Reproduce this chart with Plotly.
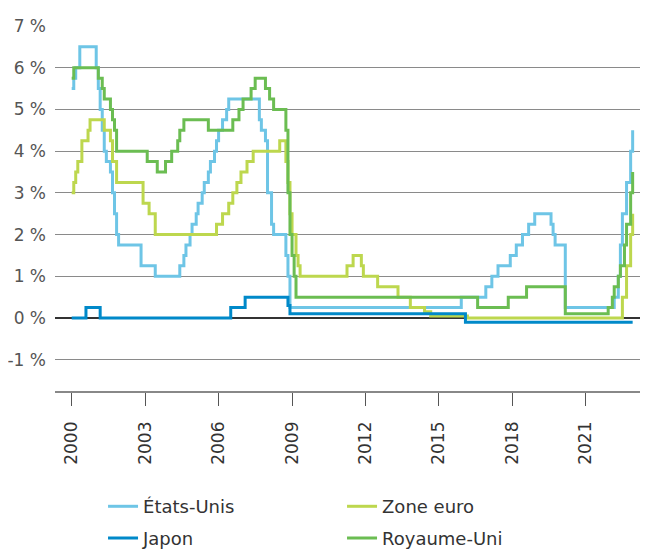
import plotly.graph_objects as go

# policy rates (%), dates of each change, last point = Dec 2022
us_dates = ["2000-01", "2000-02", "2000-03", "2000-05", "2001-01", "2001-02", "2001-03", "2001-04",
            "2001-05", "2001-06", "2001-08", "2001-09", "2001-10", "2001-11", "2001-12", "2002-11",
            "2003-06", "2004-06", "2004-08", "2004-09", "2004-11", "2004-12", "2005-02", "2005-03",
            "2005-05", "2005-06", "2005-08", "2005-09", "2005-11", "2005-12", "2006-01", "2006-03",
            "2006-05", "2006-06", "2007-09", "2007-10", "2007-12", "2008-01", "2008-03", "2008-04",
            "2008-10", "2008-11", "2008-12", "2015-12", "2016-12", "2017-03", "2017-06", "2017-12",
            "2018-03", "2018-06", "2018-09", "2018-12", "2019-08", "2019-09", "2019-10", "2020-03",
            "2022-03", "2022-05", "2022-06", "2022-07", "2022-09", "2022-11", "2022-12"]
us_rate = [5.5, 5.75, 6.0, 6.5, 6.0, 5.5, 5.0, 4.5,
           4.0, 3.75, 3.5, 3.0, 2.5, 2.0, 1.75, 1.25,
           1.0, 1.25, 1.5, 1.75, 2.0, 2.25, 2.5, 2.75,
           3.0, 3.25, 3.5, 3.75, 4.0, 4.25, 4.5, 4.75,
           5.0, 5.25, 4.75, 4.5, 4.25, 3.0, 2.25, 2.0,
           1.5, 1.0, 0.25, 0.5, 0.75, 1.0, 1.25, 1.5,
           1.75, 2.0, 2.25, 2.5, 2.25, 2.0, 1.75, 0.25,
           0.5, 1.0, 1.75, 2.5, 3.25, 4.0, 4.5]

eu_dates = ["2000-01", "2000-02", "2000-03", "2000-04", "2000-06", "2000-09", "2000-10", "2001-05",
            "2001-08", "2001-09", "2001-11", "2002-12", "2003-03", "2003-06", "2005-12", "2006-03",
            "2006-06", "2006-08", "2006-10", "2006-12", "2007-03", "2007-06", "2008-07", "2008-10",
            "2008-11", "2008-12", "2009-01", "2009-03", "2009-04", "2009-05", "2011-04", "2011-07",
            "2011-11", "2011-12", "2012-07", "2013-05", "2013-11", "2014-06", "2014-09", "2016-03",
            "2022-07", "2022-09", "2022-11", "2022-12"]
eu_rate = [3.0, 3.25, 3.5, 3.75, 4.25, 4.5, 4.75, 4.5,
           4.25, 3.75, 3.25, 2.75, 2.5, 2.0, 2.25, 2.5,
           2.75, 3.0, 3.25, 3.5, 3.75, 4.0, 4.25, 3.75,
           3.25, 2.5, 2.0, 1.5, 1.25, 1.0, 1.25, 1.5,
           1.25, 1.0, 0.75, 0.5, 0.25, 0.15, 0.05, 0.0,
           0.5, 1.25, 2.0, 2.5]

jp_dates = ["2000-01", "2000-08", "2001-03", "2006-07", "2007-02", "2008-11", "2008-12", "2016-02", "2022-12"]
jp_rate = [0.0, 0.25, 0.0, 0.25, 0.5, 0.3, 0.1, -0.1, -0.1]

uk_dates = ["2000-01", "2000-02", "2001-02", "2001-04", "2001-05", "2001-08", "2001-09", "2001-10",
            "2001-11", "2003-02", "2003-07", "2003-11", "2004-02", "2004-05", "2004-06", "2004-08",
            "2005-08", "2006-08", "2006-11", "2007-01", "2007-05", "2007-07", "2007-12", "2008-02",
            "2008-04", "2008-10", "2008-11", "2008-12", "2009-01", "2009-02", "2009-03", "2016-08",
            "2017-11", "2018-08", "2020-03", "2021-12", "2022-02", "2022-03", "2022-05", "2022-06",
            "2022-08", "2022-09", "2022-11", "2022-12"]
uk_rate = [5.75, 6.0, 5.75, 5.5, 5.25, 5.0, 4.75, 4.5,
           4.0, 3.75, 3.5, 3.75, 4.0, 4.25, 4.5, 4.75,
           4.5, 4.75, 5.0, 5.25, 5.5, 5.75, 5.5, 5.25,
           5.0, 4.5, 3.0, 2.0, 1.5, 1.0, 0.5, 0.25,
           0.5, 0.75, 0.1, 0.25, 0.5, 0.75, 1.0, 1.25,
           1.75, 2.25, 3.0, 3.5]

year_ticks = ["2000", "2003", "2006", "2009", "2012", "2015", "2018", "2021"]
pct_ticks = [-1, 0, 1, 2, 3, 4, 5, 6, 7]
pct_labels = ["-1 %", "0 %", "1 %", "2 %", "3 %", "4 %", "5 %", "6 %", "7 %"]

# name, dates, rates, colour, legend row
series = [
    ("États-Unis", us_dates, us_rate, "#6EC5E6", "legend"),
    ("Zone euro", eu_dates, eu_rate, "#BDD74E", "legend"),
    ("Japon", jp_dates, jp_rate, "#0089C9", "legend2"),
    ("Royaume-Uni", uk_dates, uk_rate, "#6BBD52", "legend2"),
]

fig = go.Figure()
for name, d, r, c, lg in series:
    fig.add_trace(go.Scatter(x=d, y=r, name=name, mode="lines", legend=lg,
                             line=dict(color=c, width=3, shape="hv")))

font = "DejaVu Sans, sans-serif"
leg = dict(orientation="h", x=0.081, xanchor="left", yanchor="top",
           entrywidth=194, font=dict(size=18, color="#333"))

# the page body has an 8px margin, so the figure is a bit smaller than the window
fig.update_layout(
    width=640, height=544,
    margin=dict(l=47, r=0, t=18, b=161, autoexpand=False),
    plot_bgcolor="white", paper_bgcolor="white",
    font=dict(family=font, color="#333"),
    legend=dict(leg, y=-0.266),
    legend2=dict(leg, y=-0.353),
    xaxis=dict(type="date", range=["1999-04-27", "2023-07-18"], automargin=False,
               tickvals=[y + "-01-01" for y in year_ticks], ticktext=year_ticks,
               tickangle=-90, ticks="outside", ticklen=13, tickcolor="#555", tickwidth=1,
               ticklabelstandoff=9,
               showline=True, linecolor="#888", linewidth=1.5, showgrid=False,
               tickfont=dict(size=17, color="#333")),
    yaxis=dict(range=[-1.75, 7], tickvals=pct_ticks, ticktext=pct_labels, automargin=False,
               showgrid=True, gridcolor="#8a8a8a", gridwidth=1.2,
               zeroline=True, zerolinecolor="#333", zerolinewidth=2,
               ticklabelstandoff=8, tickfont=dict(size=17, color="#555")),
)

fig.write_html("out.html")
